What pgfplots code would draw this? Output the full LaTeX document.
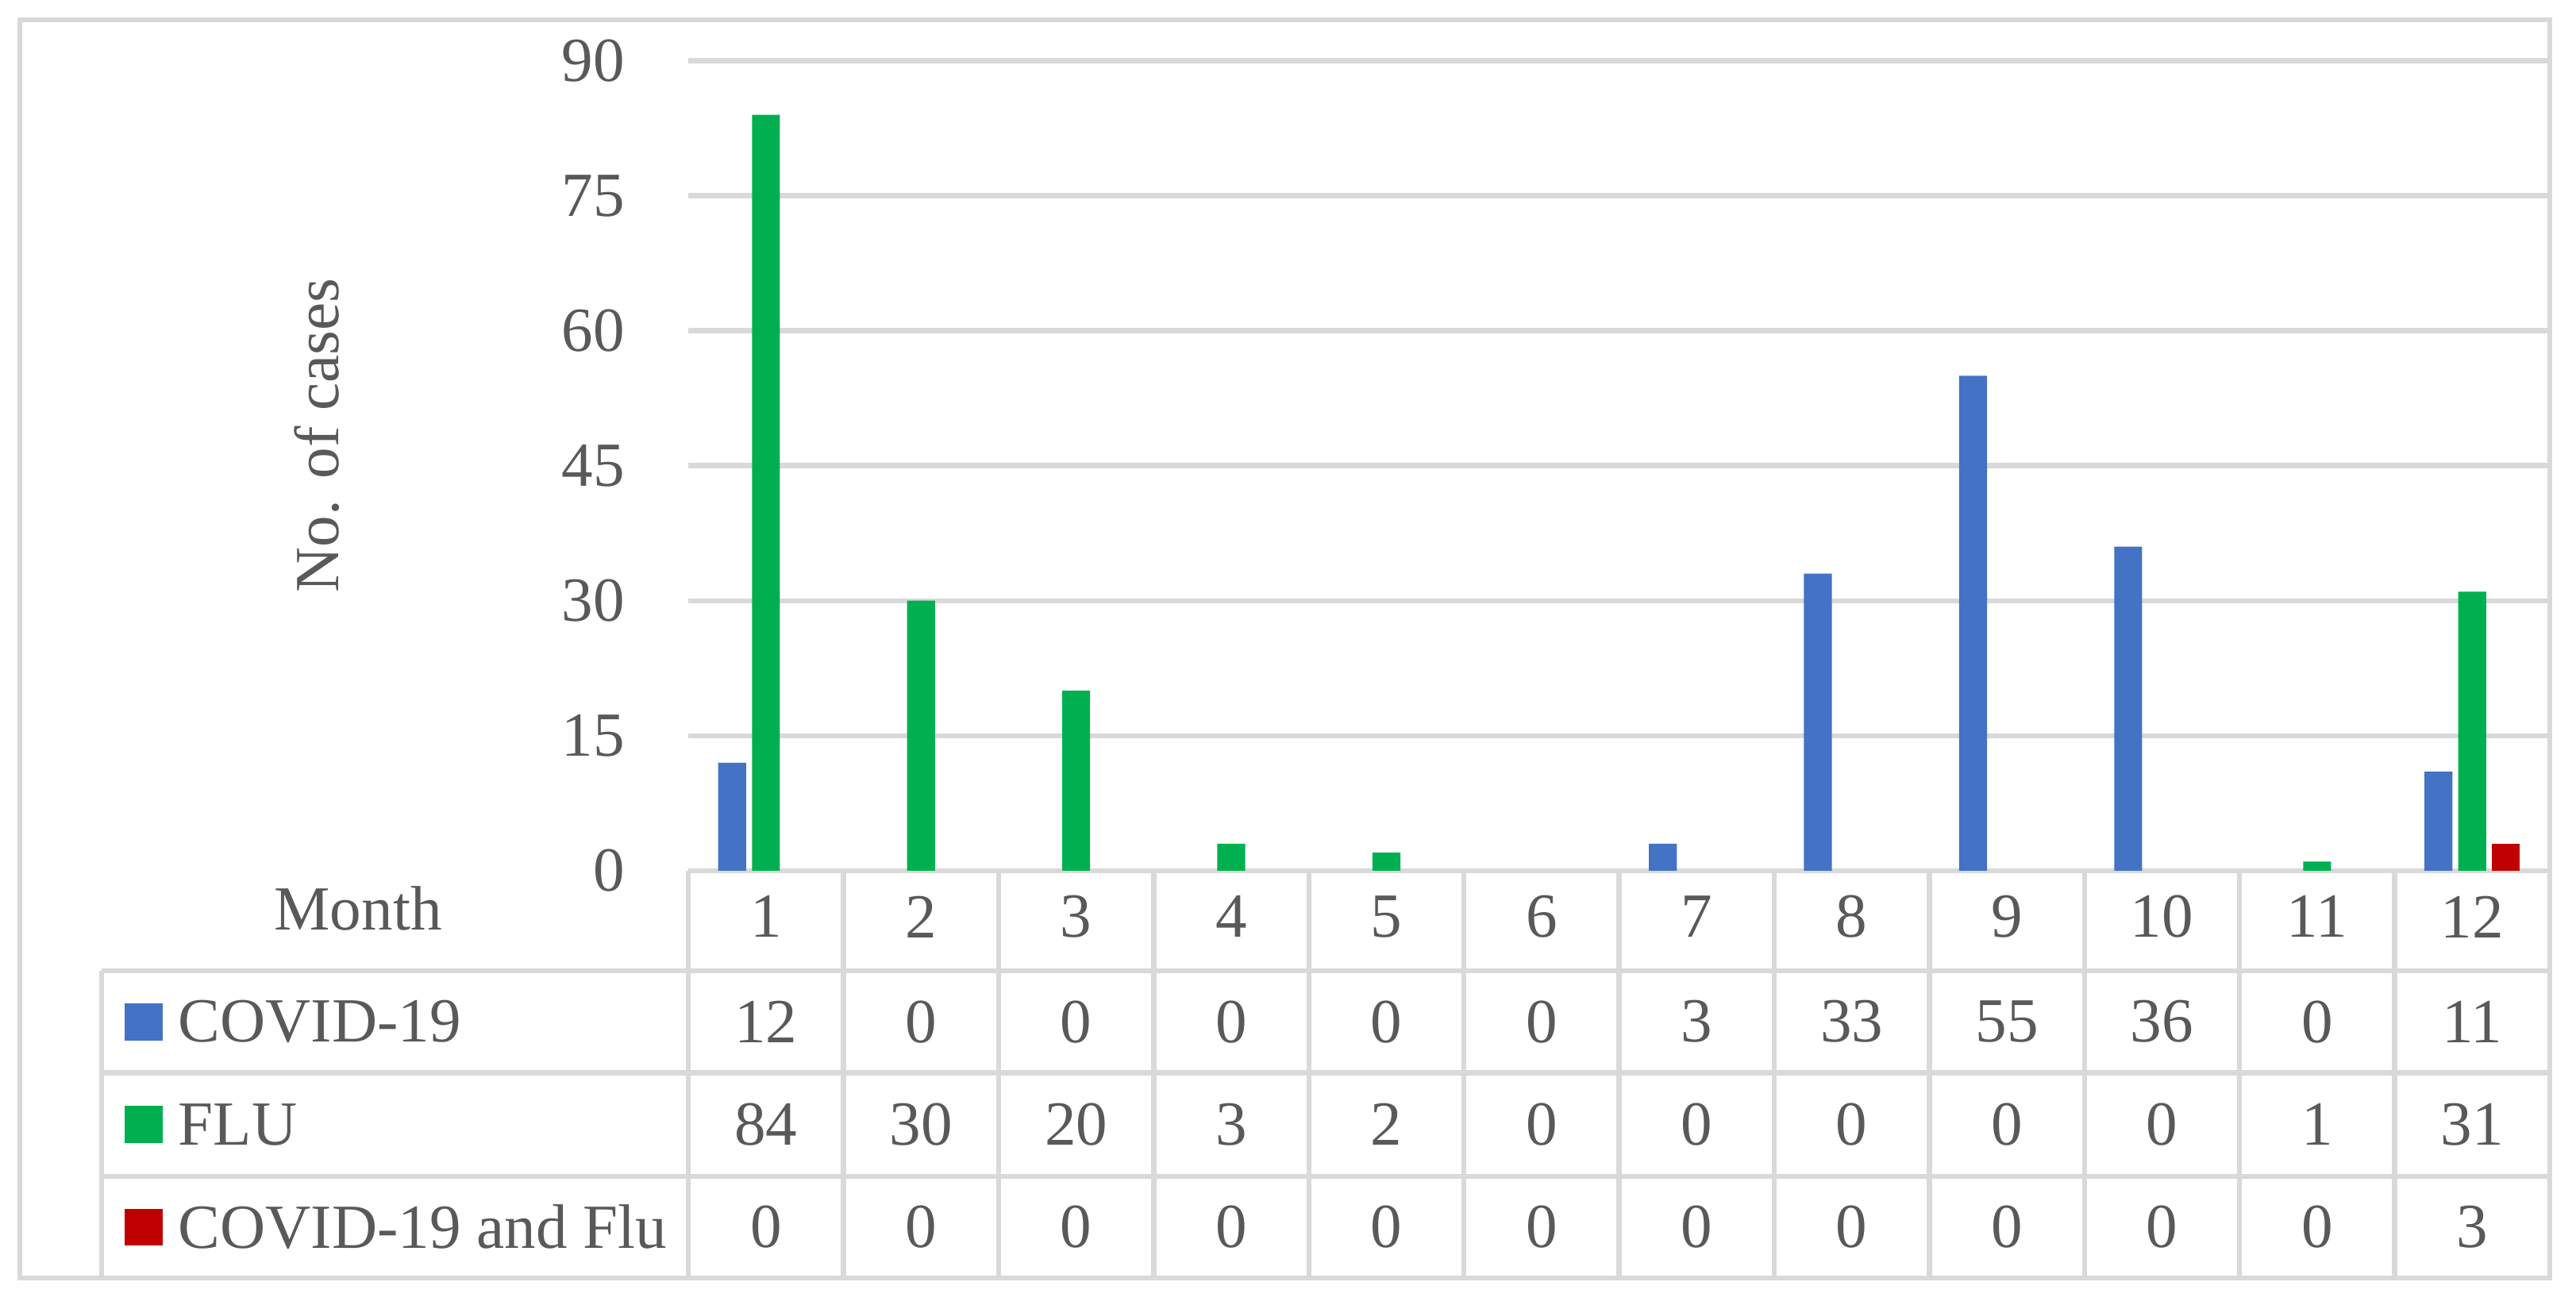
\documentclass[border=0pt]{standalone}
\usepackage{fontspec}
\setmainfont{Liberation Serif}
\usepackage{pgfplots}
\usepackage{pgfplotstable}
\pgfplotsset{compat=1.18}
\definecolor{cblue}{HTML}{4472C4}
\definecolor{cgreen}{HTML}{00B050}
\definecolor{cred}{HTML}{C00000}
\definecolor{gridgray}{HTML}{D9D9D9}
\definecolor{txt}{HTML}{595959}
\pgfplotstableread{
m covid flu both
1 12 84 0
2 0 30 0
3 0 20 0
4 0 3 0
5 0 2 0
6 0 0 0
7 3 0 0
8 33 0 0
9 55 0 0
10 36 0 0
11 0 1 0
12 11 31 3
}\data
\begin{document}
\begin{tikzpicture}[font=\fontsize{11.1}{13}\selectfont, text=txt]
\path[use as bounding box] (-4.2755,-2.694) rectangle (11.724,5.408);
\begin{axis}[
  at={(0,0)}, anchor=south west,
  scale only axis, width=11.561cm, height=5.031cm,
  xmin=0.5, xmax=12.5, ymin=0, ymax=90,
  ytick={0,15,...,90},
  xtick={1,...,12},
  axis line style={draw=none},
  major tick length=0pt,
  ymajorgrids, grid style={gridgray, line width=0.9pt},
  yticklabel style={anchor=east, inner sep=0pt, xshift=-0.388cm, text=txt},
  xticklabel style={anchor=center, inner sep=0pt, yshift=-0.286cm, text=txt},
  /pgf/number format/assume math mode=true,
  clip=false,
  ylabel={No. of cases},
  ylabel style={at={(axis description cs:-0.1995,0.5375)}, anchor=center, text=txt},
]
\addplot[ybar, bar width=0.1735cm, bar shift=-0.21cm, fill=cblue, draw=none, unbounded coords=discard, y filter/.expression={y==0 ? nan : y}] table[x=m, y=covid]{\data};
\addplot[ybar, bar width=0.1735cm, bar shift=0cm, fill=cgreen, draw=none, unbounded coords=discard, y filter/.expression={y==0 ? nan : y}] table[x=m, y=flu]{\data};
\addplot[ybar, bar width=0.1735cm, bar shift=0.21cm, fill=cred, draw=none, unbounded coords=discard, y filter/.expression={y==0 ? nan : y}] table[x=m, y=both]{\data};
\addplot[draw=none, mark=none, point meta=explicit, nodes near coords,
  every node near coord/.style={anchor=center, inner sep=0pt, text=txt}]
  table[x=m, y expr=-16.79, meta=covid]{\data};
\addplot[draw=none, mark=none, point meta=explicit, nodes near coords,
  every node near coord/.style={anchor=center, inner sep=0pt, text=txt}]
  table[x=m, y expr=-28.2, meta=flu]{\data};
\addplot[draw=none, mark=none, point meta=explicit, nodes near coords,
  every node near coord/.style={anchor=center, inner sep=0pt, text=txt}]
  table[x=m, y expr=-39.61, meta=both]{\data};
\end{axis}
\begin{scope}[gridgray, line width=0.9pt]
\draw (-4.153,-2.531) rectangle (11.561,5.286);
\foreach \k in {0,...,12} \draw ({\k*0.96343},0) -- ({\k*0.96343},-2.531);
\foreach \y in {-0.622,-1.255,-1.898} \draw (-3.643,\y) -- (11.561,\y);
\draw (-3.643,-0.622) -- (-3.643,-2.531);
\end{scope}
\node[anchor=center] at (-2.051,-0.235) {Month};
\fill[cblue] (-3.500,-1.054) rectangle (-3.265,-0.824);
\fill[cgreen] (-3.500,-1.692) rectangle (-3.265,-1.462);
\fill[cred] (-3.500,-2.329) rectangle (-3.265,-2.099);
\node[anchor=west, inner sep=0pt] at (-3.174,-0.939) {COVID-19};
\node[anchor=west, inner sep=0pt] at (-3.174,-1.577) {FLU};
\node[anchor=west, inner sep=0pt] at (-3.174,-2.214) {COVID-19 and Flu};
\end{tikzpicture}
\end{document}
